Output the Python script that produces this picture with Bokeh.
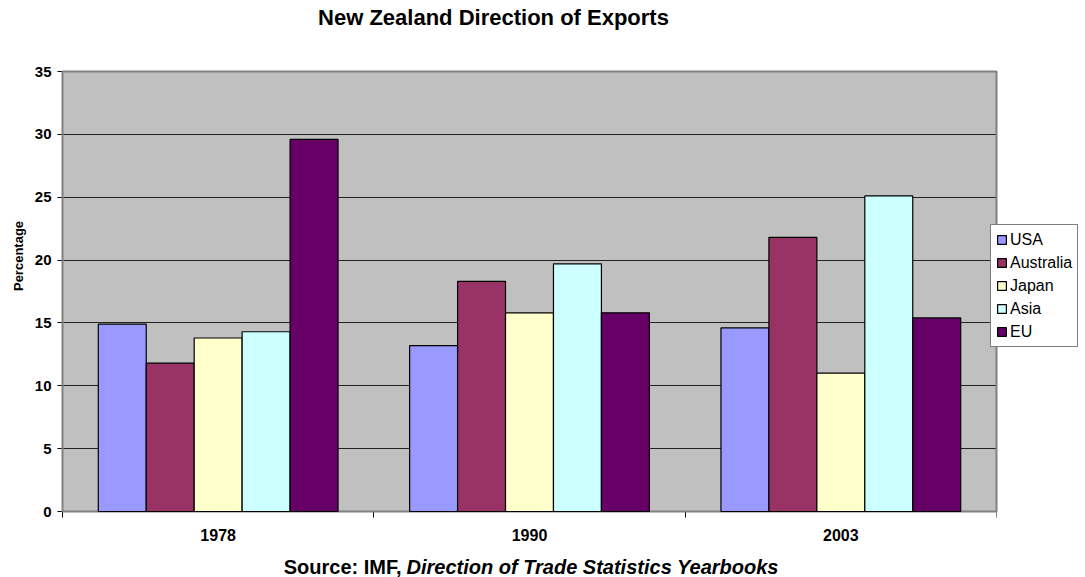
from bokeh.plotting import figure
from bokeh.layouts import column
from bokeh.models import (FixedTicker, Range1d, Label, Legend, LegendItem, ColumnDataSource)
from bokeh.embed import file_html
from bokeh.resources import INLINE

years = ["1978", "1990", "2003"]
series = ["USA", "Australia", "Japan", "Asia", "EU"]
usa = [14.9, 13.2, 14.6]
australia = [11.8, 18.3, 21.8]
japan = [13.8, 15.8, 11.0]
asia = [14.3, 19.7, 25.1]
eu = [29.6, 15.8, 15.4]
colors = ["#9999FF", "#993366", "#FFFFCC", "#CCFFFF", "#660066"]
yticks = [0, 5, 10, 15, 20, 25, 30, 35]
ymax = 35

values = [usa, australia, japan, asia, eu]
ncat = len(years)

FONT = "Liberation Sans"

# --- layout in pixels
W, H_MAIN, H_SRC = 1085, 550, 27
LEFT, BOTTOM = 62, 39            # left axis panel, bottom axis panel
PLOT_RIGHT, PLOT_TOP = 996, 71   # plot-area right / top edge on the canvas
frame_w = W - LEFT
frame_h = H_MAIN - BOTTOM
px_per_x = (PLOT_RIGHT - LEFT) / ncat
px_per_y = (frame_h - PLOT_TOP) / ymax
x_end = frame_w / px_per_x
y_end = frame_h / px_per_y

p = figure(width=W, height=H_MAIN, output_backend="svg", toolbar_location=None,
           x_range=Range1d(0, x_end), y_range=Range1d(0, y_end),
           min_border_left=LEFT, min_border_right=0, min_border_top=0,
           min_border_bottom=BOTTOM)
p.background_fill_color = "white"
p.border_fill_color = "white"
p.outline_line_color = None

# grey plot area, drawn beneath the grid
p.quad(left=[0], right=[ncat], bottom=[0], top=[ymax], fill_color="#C0C0C0",
       line_color=None, level="underlay")
p.ygrid.level = "glyph"
p.ygrid.grid_line_color = "#222222"
p.ygrid.grid_line_width = 1
p.xgrid.grid_line_color = None

# white mask hiding grid lines right of the plot area
p.quad(left=[ncat], right=[x_end + 1], bottom=[-1], top=[y_end + 1],
       fill_color="white", line_color=None, level="annotation")
# plot-area border
p.quad(left=[0], right=[ncat], bottom=[0], top=[ymax], fill_alpha=0,
       line_color="#808080", line_width=2, level="annotation")

bw = 0.154
renderers = []
for k, (name, vals, c) in enumerate(zip(series, values, colors)):
    xs = [i + 0.5 + (k - 2) * bw for i in range(ncat)]
    src = ColumnDataSource(dict(x=xs, top=vals))
    r = p.vbar(x="x", top="top", bottom=0, width=bw, source=src,
               fill_color=c, line_color="black", line_width=1.2, level="annotation")
    renderers.append((name, r))

# axes
p.xaxis.bounds = (0, ncat)
p.xaxis.ticker = FixedTicker(ticks=[i + 0.5 for i in range(ncat)],
                             minor_ticks=list(range(ncat + 1)))
p.xaxis.major_label_overrides = {i + 0.5: y for i, y in enumerate(years)}
p.xaxis.major_tick_line_color = None
p.xaxis.minor_tick_line_color = "black"
p.xaxis.minor_tick_out = 6
p.xaxis.minor_tick_in = 0
p.xaxis.axis_line_color = "black"
p.xaxis.major_label_text_font = FONT
p.xaxis.major_label_text_font_style = "bold"
p.xaxis.major_label_text_font_size = "16px"
p.xaxis.major_label_text_color = "black"
p.xaxis.major_label_standoff = 11

p.yaxis.bounds = (0, ymax)
p.yaxis.ticker = FixedTicker(ticks=yticks, minor_ticks=[])
p.yaxis.axis_line_color = "black"
p.yaxis.major_tick_line_color = "black"
p.yaxis.major_tick_out = 5
p.yaxis.major_tick_in = 0
p.yaxis.major_label_text_font = FONT
p.yaxis.major_label_text_font_style = "bold"
p.yaxis.major_label_text_font_size = "15px"
p.yaxis.major_label_text_color = "black"
p.yaxis.major_label_standoff = 6
p.yaxis.axis_label = "Percentage"
p.yaxis.axis_label_text_font = FONT
p.yaxis.axis_label_text_font_style = "bold"
p.yaxis.axis_label_text_font_size = "13px"
p.yaxis.axis_label_text_color = "black"
p.yaxis.axis_label_standoff = 6

# title (screen units relative to the frame's bottom-left corner)
p.add_layout(Label(x=493 - LEFT, y=frame_h - 17, x_units="screen", y_units="screen",
                   text="New Zealand Direction of Exports", text_font=FONT,
                   text_font_style="bold", text_font_size="22px", text_color="black",
                   text_align="center", text_baseline="middle"))

legend = Legend(items=[LegendItem(label=n, renderers=[r]) for n, r in renderers],
                location=(990 - LEFT, frame_h - 347), border_line_color="black",
                border_line_width=1, background_fill_color="white", background_fill_alpha=1,
                label_text_font=FONT, label_text_font_size="16px", label_text_color="black",
                glyph_width=11, glyph_height=11, spacing=4, padding=5,
                label_standoff=3, margin=0, label_height=19)
p.add_layout(legend, "center")

# caption strip below the chart (its frame is aligned with the main frame, at x=LEFT)
s = figure(width=W, height=H_SRC, output_backend="svg", toolbar_location=None,
           x_range=Range1d(0, W), y_range=Range1d(0, H_SRC),
           x_axis_type=None, y_axis_type=None, min_border=0)
s.outline_line_color = None
s.background_fill_color = "white"
s.border_fill_color = "white"
s.xgrid.visible = False
s.ygrid.visible = False
s.add_layout(Label(x=401 - LEFT, y=H_SRC - 16, x_units="screen", y_units="screen",
                   text="Source: IMF,", text_font=FONT,
                   text_font_style="bold", text_font_size="20px", text_color="black",
                   text_align="right", text_baseline="middle"))
s.add_layout(Label(x=406 - LEFT, y=H_SRC - 16, x_units="screen", y_units="screen",
                   text="Direction of Trade Statistics Yearbooks",
                   text_font=FONT, text_font_style="bold italic", text_font_size="20px",
                   text_color="black", text_align="left", text_baseline="middle"))

lay = column(p, s, spacing=0)
out = file_html(lay, INLINE)
open("out.html", "w").write(out)
